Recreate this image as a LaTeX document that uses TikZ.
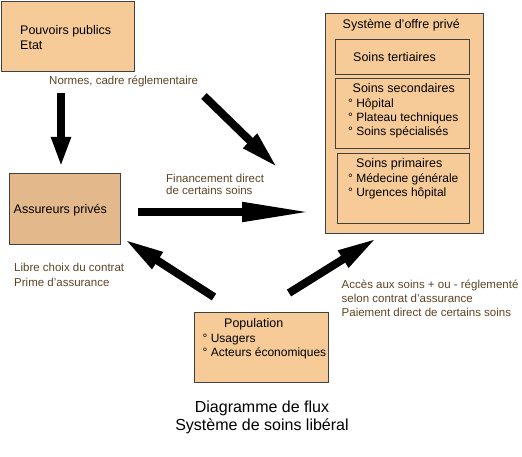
\documentclass[tikz,border=0pt]{standalone}
\usepackage{fontspec}
\setmainfont{Liberation Sans}
\usetikzlibrary{arrows.meta}
\definecolor{peach}{HTML}{F7CB98}
\definecolor{boxdark}{HTML}{E3B88B}
\definecolor{lbltxt}{HTML}{5C4424}
\definecolor{edgecol}{HTML}{404040}
\begin{document}
\begin{tikzpicture}[x=1pt,y=-1pt,
  box/.style={draw=edgecol, line width=0.9pt, fill=peach, inner sep=0pt, anchor=north west},
  txt/.style={anchor=base west, inner sep=0pt, font=\fontsize{12.5}{15}\selectfont},
  sub/.style={anchor=base west, inner sep=0pt, font=\fontsize{12}{14}\selectfont},
  lbl/.style={anchor=base west, inner sep=0pt, text=lbltxt, font=\fontsize{11.5}{14}\selectfont},
  ttl/.style={anchor=base, inner sep=0pt, font=\fontsize{16}{19}\selectfont},
  flow/.style={line width=8pt, -{Triangle[width=18pt,length=#1]}},
  flow/.default=40pt
]
\useasboundingbox (0,0) rectangle (522,457);

% boxes
\node[box, minimum width=133pt, minimum height=70pt] (pp) at (1,1) {};
\node[box, minimum width=158pt, minimum height=220pt] (sys) at (325,13) {};
\node[box, minimum width=134pt, minimum height=35pt] (ter) at (335,39) {};
\node[box, minimum width=134pt, minimum height=70pt] (sec) at (335,78) {};
\node[box, minimum width=132pt, minimum height=70pt] (pri) at (337,153) {};
\node[box, fill=boxdark, minimum width=111pt, minimum height=71pt] (ass) at (9,173) {};
\node[box, minimum width=134pt, minimum height=70pt] (pop) at (194,312) {};

% box texts
\node[txt] (t1) at (20,35) {Pouvoirs publics};
\node[txt] (t2) at (20,50) {Etat};
\node[txt] (t3) at (342.5,28.5) {Système d’offre privé};
\node[txt] (t4) at (353,61.5) {Soins tertiaires};
\node[txt] (t5) at (352.5,92.5) {Soins secondaires};
\node[sub] (t6) at (348,107.5) {° Hôpital};
\node[sub] (t7) at (348,121.5) {° Plateau techniques};
\node[sub] (t8) at (348,136) {° Soins spécialisés};
\node[txt] (t9) at (356,167.5) {Soins primaires};
\node[sub] (t10) at (348,182.5) {° Médecine générale};
\node[sub] (t11) at (348,196.5) {° Urgences hôpital};
\node[txt] (t12) at (13.5,214) {Assureurs privés};
\node[txt] (t13) at (224,327.5) {Population};
\node[sub] (t14) at (202.5,342.5) {° Usagers};
\node[sub] (t15) at (202.5,356.5) {° Acteurs économiques};

% labels
\node[lbl] (l1) at (49,84.5) {Normes, cadre réglementaire};
\node[lbl] (l2) at (166,182.5) {Financement direct};
\node[lbl] (l3) at (166,195) {de certains soins};
\node[lbl] (l4) at (14,271.5) {Libre choix du contrat};
\node[lbl] (l5) at (14,286) {Prime d’assurance};
\node[lbl] (l6) at (341.5,288) {Accès aux soins + ou - réglementé};
\node[lbl] (l7) at (341.5,302) {selon contrat d’assurance};
\node[lbl] (l8) at (341.5,316) {Paiement direct de certains soins};

% title
\node[ttl] (ti1) at (262,412) {Diagramme de flux};
\node[ttl] (ti2) at (262,430.5) {Système de soins libéral};

% arrows
\coordinate (a1s) at (61,93);   \coordinate (a1e) at (61,167);
\coordinate (a2s) at (204,96);  \coordinate (a2e) at (278,168);
\coordinate (a3s) at (138,212); \coordinate (a3e) at (312,212);
\coordinate (a4s) at (214,297); \coordinate (a4e) at (124,239);
\coordinate (a5s) at (289,293); \coordinate (a5e) at (377,238);
\draw[flow=30pt] (a1s) -- (a1e);
\draw[flow=39pt] (a2s) -- (a2e);
\draw[flow=70pt] (a3s) -- (a3e);
\draw[flow=40pt] (a4s) -- (a4e);
\draw[flow=40pt] (a5s) -- (a5e);
\end{tikzpicture}
\end{document}
